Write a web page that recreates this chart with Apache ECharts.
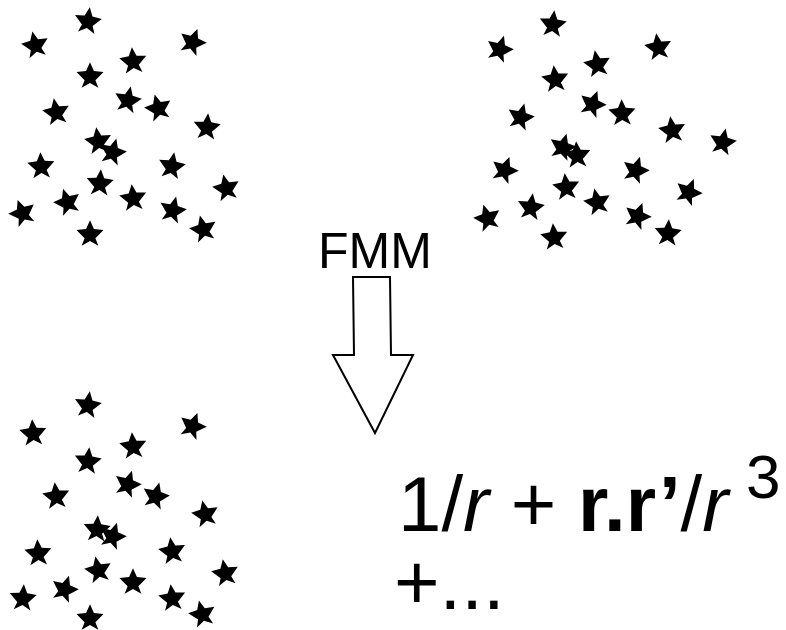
<!DOCTYPE html>
<html><head><meta charset="utf-8">
<script src="https://cdn.jsdelivr.net/npm/echarts@6/dist/echarts.min.js"></script>
<style>html,body{margin:0;padding:0;background:#fff}#c{width:786px;height:630px}</style>
</head><body><div id="c"></div>
<script>
// Star clusters: [x, y, rotation]
var clusterTopLeft = [
 [88,20,-8],[35,44,12],[193,41,-20],[133,60,5],[90,75,0],[128,99,-12],[158,107,15],[56,111,10],
 [207,126,-5],[98,140,8],[113,151,-15],[41,165,3],[172,165,-10],[226,187,12],[100,182,-4],
 [67,201,18],[133,197,6],[173,209,-14],[22,212,20],[90,233,0],[203,228,14]
];
var clusterTopRight = [
 [553,23,-6],[500,48,-18],[658,46,8],[597,63,10],[555,78,6],[593,103,-20],[622,112,2],[521,116,-15],
 [672,129,8],[723,141,-12],[563,146,-16],[577,154,4],[505,169,-20],[636,169,-18],[566,186,6],
 [689,191,-22],[531,206,-8],[597,201,12],[487,217,16],[638,215,-20],[554,236,5],[668,232,-4]
];
var clusterBottom = [
 [88,404,-8],[33,432,4],[193,425,-20],[133,445,5],[88,460,-6],[128,483,-18],[156,495,-15],[56,495,6],
 [205,513,12],[97,528,-4],[113,535,-18],[38,552,3],[172,550,8],[225,572,10],[98,569,12],
 [65,588,-18],[133,581,0],[172,597,6],[23,597,-4],[90,617,0],[202,613,14]
];
// Arrow outline (shaft + head), clockwise from top-left of shaft
var arrowOutline = [[353,277],[390,277],[391,355],[413,355],[375,433],[333,355],[354,355]];
// Labels
var fmmLabel = 'FMM';

var starPath = 'path://M100 0 L127.6 62 L195.1 69.1 L138 127.6 L158.8 180.9 L100 147 L41.2 180.9 L62 127.6 L4.9 69.1 L72.4 62 Z';

function starSeries(pts){
  return {
    type:'scatter', symbol: starPath, symbolSize: 27, symbolKeepAspect:true,
    itemStyle:{color:'#000', opacity:1}, silent:true,
    data: pts.map(function(p){return {value:[p[0],p[1]], symbolRotate:p[2]};})
  };
}

var chart = echarts.init(document.getElementById('c'), null, {renderer:'canvas'});
chart.setOption({
  animation:false,
  backgroundColor:'#fff',
  grid:{left:0,right:0,top:0,bottom:0},
  xAxis:{type:'value',min:0,max:786,show:false},
  yAxis:{type:'value',min:0,max:630,inverse:true,show:false},
  series:[
    starSeries(clusterTopLeft),
    starSeries(clusterTopRight),
    starSeries(clusterBottom),
    {
      type:'custom', silent:true,
      data:[0],
      renderItem:function(params, api){
        var pts = arrowOutline.map(function(p){return api.coord(p);});
        return {type:'polygon', shape:{points:pts},
          style:{fill:'#fff', stroke:'#000', lineWidth:2, lineJoin:'miter'}};
      }
    }
  ],
  graphic:[
    {type:'text', left:371-53, top:229, style:{text:fmmLabel, font:'50px "Liberation Sans", Arial, sans-serif', fill:'#000'}},
    {type:'text', left:398, top:470, style:{
      text:'{n|1/}{i|r}{n| + }{b|r.r’}{n|/}{i|r}',
      rich:{
        n:{font:'78px "Liberation Sans", Arial, sans-serif', fill:'#000'},
        i:{font:'italic 78px "Liberation Sans", Arial, sans-serif', fill:'#000'},
        b:{font:'bold 78px "Liberation Sans", Arial, sans-serif', fill:'#000'}
      }}},
    {type:'text', left:746, top:450, style:{text:'3', font:'62px "Liberation Sans", Arial, sans-serif', fill:'#000'}},
    {type:'text', left:394, top:548, style:{text:'+...', font:'78px "Liberation Sans", Arial, sans-serif', fill:'#000'}}
  ]
});
</script></body></html>
